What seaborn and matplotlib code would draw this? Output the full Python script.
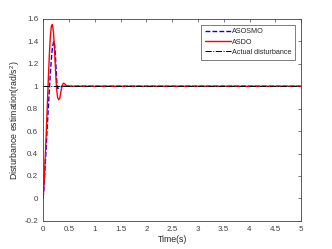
import numpy as np
import pandas as pd
import seaborn as sns
import matplotlib
matplotlib.use("Agg")
import matplotlib.pyplot as plt

# values
t_asosmo = [0, 0.02, 0.04, 0.06, 0.08, 0.10, 0.12, 0.14, 0.16, 0.18, 0.20, 0.21, 0.22, 0.23, 0.24, 0.25, 0.26, 0.27, 0.28, 0.30, 0.32, 0.36, 0.5, 5]
asosmo = [0, 0.14, 0.30, 0.47, 0.64, 0.81, 0.97, 1.12, 1.25, 1.35, 1.39, 1.40, 1.38, 1.33, 1.25, 1.16, 1.07, 1.01, 0.98, 0.985, 0.99, 1.0, 1.0, 1.0]

t_asdo = [0, 0.02, 0.04, 0.06, 0.08, 0.10, 0.12, 0.14, 0.16, 0.18, 0.20, 0.22, 0.24, 0.26, 0.28, 0.30, 0.32, 0.34, 0.36, 0.38, 0.40, 0.42, 0.45, 0.5, 5]
asdo = [0, 0.16, 0.36, 0.58, 0.82, 1.06, 1.28, 1.45, 1.54, 1.55, 1.48, 1.33, 1.14, 0.98, 0.90, 0.88, 0.89, 0.94, 0.99, 1.02, 1.027, 1.02, 1.005, 1.0, 1.0]

t_actual = [0, 5]
actual = [1, 1]

sns.set_style("white")
plt.rcParams['font.family'] = ['Liberation Sans', 'DejaVu Sans']
plt.rcParams['mathtext.fontset'] = 'custom'
plt.rcParams['mathtext.rm'] = 'Liberation Sans'
plt.rcParams['mathtext.it'] = 'Liberation Sans'

fig, ax = plt.subplots(figsize=(3.32, 2.49), dpi=100)

sns.lineplot(x=t_asosmo, y=asosmo, ax=ax, color='blue', lw=1.0, linestyle='--',
             sort=False, label='ASOSMO')
ax.lines[-1].set_dashes([3.5, 1.5])
sns.lineplot(x=t_asdo, y=asdo, ax=ax, color='red', lw=1.0, sort=False, label='ASDO')
sns.lineplot(x=t_actual, y=actual, ax=ax, color='black', lw=0.7, linestyle='-.',
             sort=False, label='Actual disturbance')

ax.set_xlim(0, 5)
ax.set_ylim(-0.2, 1.6)
ax.set_xticks(np.arange(0, 5.01, 0.5))
ax.set_xticklabels(['0', '0.5', '1', '1.5', '2', '2.5', '3', '3.5', '4', '4.5', '5'])
ax.set_yticks(np.arange(-0.2, 1.61, 0.2))
ax.set_yticklabels(['-0.2', '0', '0.2', '0.4', '0.6', '0.8', '1', '1.2', '1.4', '1.6'])
ax.tick_params(direction='in', length=2.5, width=0.5, labelsize=5.8, colors='#404040',
               top=True, right=True, pad=3.5)
for s in ax.spines.values():
    s.set_color('#404040')
    s.set_linewidth(0.6)

ax.set_xlabel('Time(s)', fontsize=6.3, labelpad=1.5, color='#262626')
ax.set_ylabel('Disturbance estimation(rad/s$^2$)', fontsize=6.3, labelpad=1.5, color='#262626')

leg = ax.legend(loc='upper right', fontsize=5.2, frameon=True, fancybox=False,
                handlelength=3.6, handletextpad=0.2, borderpad=0.5, labelspacing=0.45,
                borderaxespad=0.8)
leg.get_frame().set_edgecolor('#404040')
leg.get_frame().set_linewidth(0.6)

fig.subplots_adjust(left=0.13, right=0.907, top=0.924, bottom=0.113)
fig.savefig('out.png', dpi=100)
